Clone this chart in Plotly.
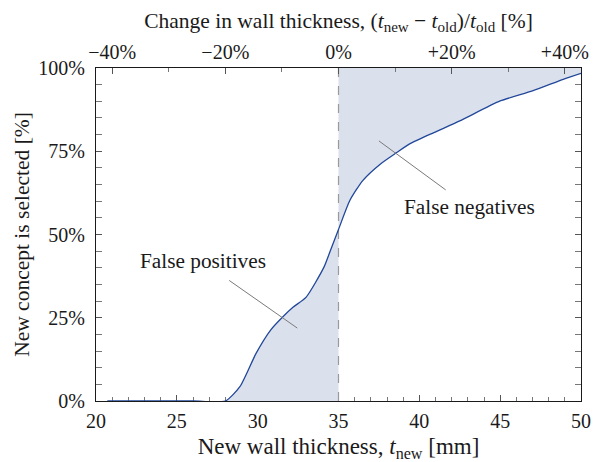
import plotly.graph_objects as go

# Probability that the new concept is selected vs. new wall thickness
t_new_mm = [20.7, 26.0, 28.0, 28.9, 29.9, 30.8, 31.5, 32.2, 33.0, 34.1, 34.5, 35.0,
            35.7, 36.5, 37.6, 38.6, 39.4, 40.9, 42.5, 45.0, 47.0, 48.9, 50.0]
selected_pct = [0.0, 0.0, 0.0, 4.3, 14.3, 21.3, 25.0, 28.2, 31.2, 40.2, 45.2, 51.5,
                60.2, 66.2, 71.2, 74.6, 77.2, 80.6, 84.1, 90.1, 93.1, 96.6, 98.4]

t_old_mm = 35.0
x_ticks = [20, 25, 30, 35, 40, 45, 50]
change_ticks_pct = [-40, -20, 0, 20, 40]
change_tick_text = ["\u221240%", "\u221220%", "0%", "+20%", "+40%"]
y_ticks = [0, 25, 50, 75, 100]
y_tick_text = ["0%", "25%", "50%", "75%", "100%"]

FONT = "Liberation Serif"
LINE = "#21479a"
FILL = "#dae0ec"
INK = "#1a1a1a"
SMOOTH = 0.6


def serif(labels):
    return [f"<span style=\"font-family:'{FONT}', serif\">{s}</span>" for s in labels]


fp_x = [x for x in t_new_mm if 28.0 <= x <= t_old_mm]
fp_y = [y for x, y in zip(t_new_mm, selected_pct) if 28.0 <= x <= t_old_mm]
fn_x = [x for x in t_new_mm if x >= t_old_mm]
fn_y = [y for x, y in zip(t_new_mm, selected_pct) if x >= t_old_mm]

fig = go.Figure()

# False positives: area under the curve left of t_old
fig.add_trace(go.Scatter(x=fp_x, y=fp_y, mode="lines", fill="tozeroy",
                         fillcolor=FILL, line=dict(width=0, shape="spline", smoothing=SMOOTH),
                         hoverinfo="skip", showlegend=False))
# False negatives: area above the curve right of t_old
fig.add_trace(go.Scatter(x=[t_old_mm, t_new_mm[-1]], y=[100, 100], mode="lines",
                         line=dict(width=0), hoverinfo="skip", showlegend=False))
fig.add_trace(go.Scatter(x=fn_x, y=fn_y, mode="lines", fill="tonexty",
                         fillcolor=FILL, line=dict(width=0, shape="spline", smoothing=SMOOTH),
                         hoverinfo="skip", showlegend=False))
# Current thickness marker
fig.add_trace(go.Scatter(x=[t_old_mm, t_old_mm], y=[0, 100], mode="lines",
                         line=dict(color="#9a9a9a", width=1.2, dash="dash"),
                         hoverinfo="skip", showlegend=False))
# Selection curve
fig.add_trace(go.Scatter(x=t_new_mm, y=selected_pct, mode="lines",
                         line=dict(color=LINE, width=1.3, shape="spline", smoothing=SMOOTH),
                         showlegend=False))
# Invisible trace to activate the top axis
fig.add_trace(go.Scatter(x=[20, 50], y=[50, 50], xaxis="x2", mode="lines",
                         line=dict(width=0), hoverinfo="skip", showlegend=False))

# Callout leaders
fig.add_shape(type="line", x0=28.24, y0=36.2, x1=32.45, y1=21.9,
              line=dict(color="#7a7a7a", width=1))
fig.add_shape(type="line", x0=37.5, y0=78.1, x1=41.63, y1=63.4,
              line=dict(color="#7a7a7a", width=1))
fig.add_annotation(x=26.6, y=42.0, text="False positives", showarrow=False,
                   font=dict(family=FONT, size=21.3, color=INK))
fig.add_annotation(x=43.1, y=58.4, text="False negatives", showarrow=False,
                   font=dict(family=FONT, size=21.3, color=INK))

tick_font = dict(family=FONT, size=20, color=INK)
title_font = dict(family=FONT, size=21.5, color=INK)

fig.update_layout(
    width=593, height=462,
    font=dict(family=FONT, color=INK, size=20),
    margin=dict(l=96, r=12, t=68, b=61),
    paper_bgcolor="white", plot_bgcolor="white",
    xaxis=dict(range=[20, 50], tickmode="array", tickvals=x_ticks,
               ticktext=serif([str(v) for v in x_ticks]), automargin=False,
               ticks="inside", ticklen=6, tickwidth=1, tickcolor="#555",
               minor=dict(dtick=1, tick0=20, ticks="inside", ticklen=3.5, tickcolor="#777"),
               showline=True, linecolor=INK, linewidth=1.3, mirror=True,
               layer="below traces", ticklabelstandoff=2,
               showgrid=False, zeroline=False, tickfont=tick_font,
               title=dict(text="New wall thickness, <i>t</i><sub>new</sub> [mm]",
                          font=dict(family=FONT, size=23, color=INK), standoff=10)),
    xaxis2=dict(overlaying="x", side="top", range=[20, 50], automargin=False,
                tickmode="array",
                tickvals=[t_old_mm * (1 + p / 100) for p in change_ticks_pct],
                ticktext=serif(change_tick_text), ticklabelstandoff=4,
                ticks="inside", ticklen=6, tickwidth=1, tickcolor="#555",
                minor=dict(tickmode="array",
                           tickvals=[t_old_mm * (1 + p / 100) for p in (-30, -10, 10, 30)],
                           ticks="inside", ticklen=4, tickcolor="#777"),
                showgrid=False, zeroline=False, tickfont=tick_font,
                title=dict(text="Change in wall thickness, (<i>t</i><sub>new</sub> \u2212 "
                                "<i>t</i><sub>old</sub>)/<i>t</i><sub>old</sub> [%]",
                           font=title_font, standoff=6)),
    yaxis=dict(range=[0, 100], tickmode="array", tickvals=y_ticks,
               ticktext=serif(y_tick_text),
               automargin=False, ticklabelstandoff=6,
               ticks="inside", ticklen=6, tickwidth=1, tickcolor="#555",
               minor=dict(dtick=5, ticks="inside", ticklen=3.5, tickcolor="#777"),
               showline=True, linecolor=INK, linewidth=1.3, mirror="allticks",
               showgrid=False, zeroline=False, tickfont=tick_font,
               title=dict(text="New concept is selected [%]", font=title_font, standoff=2)),
)

fig.write_html("out.html")
